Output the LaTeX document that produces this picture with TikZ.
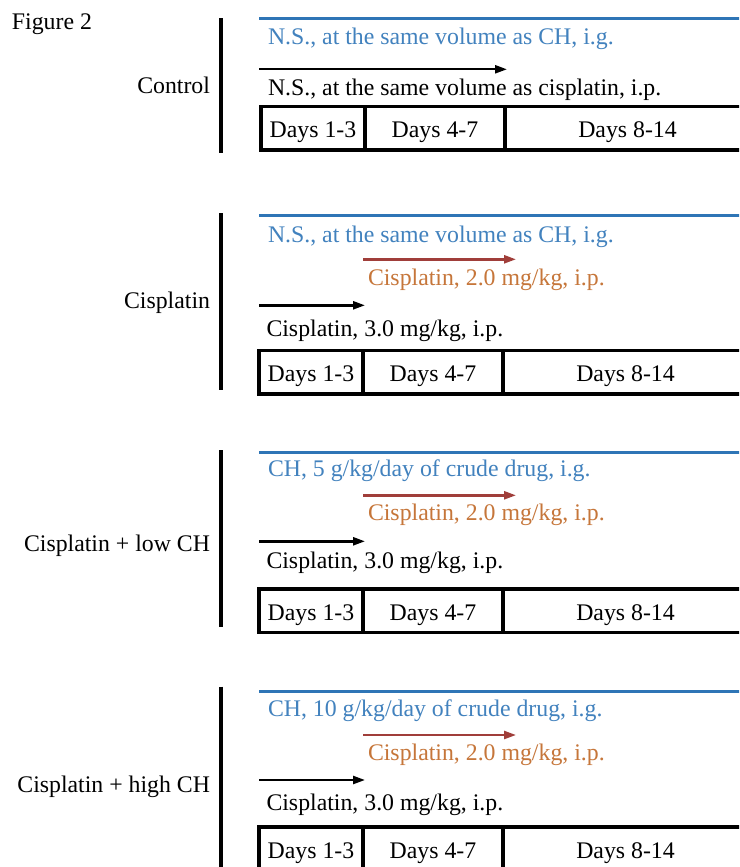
\documentclass[tikz,border=0pt]{standalone}
\usepackage{fontspec}
\setmainfont{Liberation Serif}
\usetikzlibrary{arrows.meta}
\definecolor{chblue}{RGB}{46,117,182}
\definecolor{chbluetext}{RGB}{66,130,190}
\definecolor{cisred}{RGB}{160,62,58}
\definecolor{cisorange}{RGB}{198,118,58}
\tikzset{
  txt/.style={font=\fontsize{23.8}{28}\selectfont, inner sep=0pt, outer sep=0pt},
  grouplabel/.style={txt, anchor=base east},
  drugtext/.style={txt, anchor=base west},
  bluetext/.style={drugtext, text=chbluetext},
  orangetext/.style={drugtext, text=cisorange},
  blackarrow/.style={line width=2.4pt, -{Triangle[length=12pt,width=8pt]}},
  redarrow/.style={line width=2.4pt, draw=cisred, -{Triangle[length=12pt,width=8pt]}, cisred},
  blueline/.style={line width=3pt, draw=chblue},
  sepline/.style={line width=3.2pt},
  cell/.style={txt, draw, line width=3.2pt, minimum height=43.5pt, text height=19pt, text depth=0pt, anchor=west},
}
\begin{document}
\begin{tikzpicture}[x=1pt,y=-1pt]
\clip (0,0) rectangle (739,867);
\fill[white] (0,0) rectangle (739,867);

\node[drugtext, anchor=base west] (fig) at (12,30) {Figure 2};

% ---------- Group 1: Control ----------
\begin{scope}[shift={(0,18.3)}]
  \coordinate (g1top) at (221,0);
  \coordinate (g1bot) at (221,135);
  \draw[sepline] (g1top) -- (g1bot);
  \node[grouplabel] (g1lab) at (210,75) {Control};
  \coordinate (g1b0) at (259,0);
  \coordinate (g1b1) at (745,0);
  \draw[blueline] (g1b0) -- (g1b1);
  \node[bluetext] (g1blue) at (268,26) {N.S., at the same volume as CH, i.g.};
  \coordinate (g1k0) at (259,51);
  \coordinate (g1k1) at (507,51);
  \draw[blackarrow] (g1k0) -- (g1k1);
  \node[drugtext] (g1black) at (268,77.4) {N.S., at the same volume as cisplatin, i.p.};
  \node[cell, minimum width=104pt] (g1c1) at (261,110) {Days 1-3};
  \node[cell, minimum width=140pt] (g1c2) at (365,110) {Days 4-7};
  \node[cell, minimum width=245pt] (g1c3) at (505,110) {Days 8-14};
\end{scope}

% ---------- Group 2: Cisplatin ----------
\begin{scope}[shift={(0,215.3)}]
  \coordinate (g2top) at (221,-2);
  \coordinate (g2bot) at (221,175);
  \draw[sepline] (g2top) -- (g2bot);
  \node[grouplabel] (g2lab) at (210,93) {Cisplatin};
  \coordinate (g2b0) at (259,0);
  \coordinate (g2b1) at (745,0);
  \draw[blueline] (g2b0) -- (g2b1);
  \node[bluetext] (g2blue) at (268,27) {N.S., at the same volume as CH, i.g.};
  \coordinate (g2r0) at (363,44);
  \coordinate (g2r1) at (516,44);
  \draw[redarrow] (g2r0) -- (g2r1);
  \node[orangetext] (g2orange) at (368,70.5) {Cisplatin, 2.0 mg/kg, i.p.};
  \coordinate (g2k0) at (259,90);
  \coordinate (g2k1) at (365,90);
  \draw[blackarrow] (g2k0) -- (g2k1);
  \node[drugtext] (g2black) at (266.5,121) {Cisplatin, 3.0 mg/kg, i.p.};
  \node[cell, minimum width=104pt] (g2c1) at (259,157) {Days 1-3};
  \node[cell, minimum width=140pt] (g2c2) at (363,157) {Days 4-7};
  \node[cell, minimum width=245pt] (g2c3) at (503,157) {Days 8-14};
\end{scope}

% ---------- Group 3: Cisplatin + low CH ----------
\begin{scope}[shift={(0,452.3)}]
  \coordinate (g3top) at (221,-2);
  \coordinate (g3bot) at (221,175);
  \draw[sepline] (g3top) -- (g3bot);
  \node[grouplabel] (g3lab) at (210,99.5) {Cisplatin + low CH};
  \coordinate (g3b0) at (259,0);
  \coordinate (g3b1) at (745,0);
  \draw[blueline] (g3b0) -- (g3b1);
  \node[bluetext] (g3blue) at (268,24.5) {CH, 5 g/kg/day of crude drug, i.g.};
  \coordinate (g3r0) at (363,43);
  \coordinate (g3r1) at (516,43);
  \draw[redarrow] (g3r0) -- (g3r1);
  \node[orangetext] (g3orange) at (368,68) {Cisplatin, 2.0 mg/kg, i.p.};
  \coordinate (g3k0) at (259,89);
  \coordinate (g3k1) at (365,89);
  \draw[blackarrow] (g3k0) -- (g3k1);
  \node[drugtext] (g3black) at (266.5,116.5) {Cisplatin, 3.0 mg/kg, i.p.};
  \node[cell, minimum width=104pt] (g3c1) at (259,158.5) {Days 1-3};
  \node[cell, minimum width=140pt] (g3c2) at (363,158.5) {Days 4-7};
  \node[cell, minimum width=245pt] (g3c3) at (503,158.5) {Days 8-14};
\end{scope}

% ---------- Group 4: Cisplatin + high CH ----------
\begin{scope}[shift={(0,691.7)}]
  \coordinate (g4top) at (221,-5);
  \coordinate (g4bot) at (221,180);
  \draw[sepline] (g4top) -- (g4bot);
  \node[grouplabel] (g4lab) at (210,101) {Cisplatin + high CH};
  \coordinate (g4b0) at (259,0);
  \coordinate (g4b1) at (745,0);
  \draw[blueline] (g4b0) -- (g4b1);
  \node[bluetext] (g4blue) at (268,25) {CH, 10 g/kg/day of crude drug, i.g.};
  \coordinate (g4r0) at (363,43.3);
  \coordinate (g4r1) at (516,43.3);
  \draw[redarrow] (g4r0) -- (g4r1);
  \node[orangetext] (g4orange) at (368,69) {Cisplatin, 2.0 mg/kg, i.p.};
  \coordinate (g4k0) at (259,88.3);
  \coordinate (g4k1) at (365,88.3);
  \draw[blackarrow] (g4k0) -- (g4k1);
  \node[drugtext] (g4black) at (266.5,118.3) {Cisplatin, 3.0 mg/kg, i.p.};
  \node[cell, minimum width=104pt] (g4c1) at (259,157) {Days 1-3};
  \node[cell, minimum width=140pt] (g4c2) at (363,157) {Days 4-7};
  \node[cell, minimum width=245pt] (g4c3) at (503,157) {Days 8-14};
\end{scope}
\end{tikzpicture}
\end{document}
